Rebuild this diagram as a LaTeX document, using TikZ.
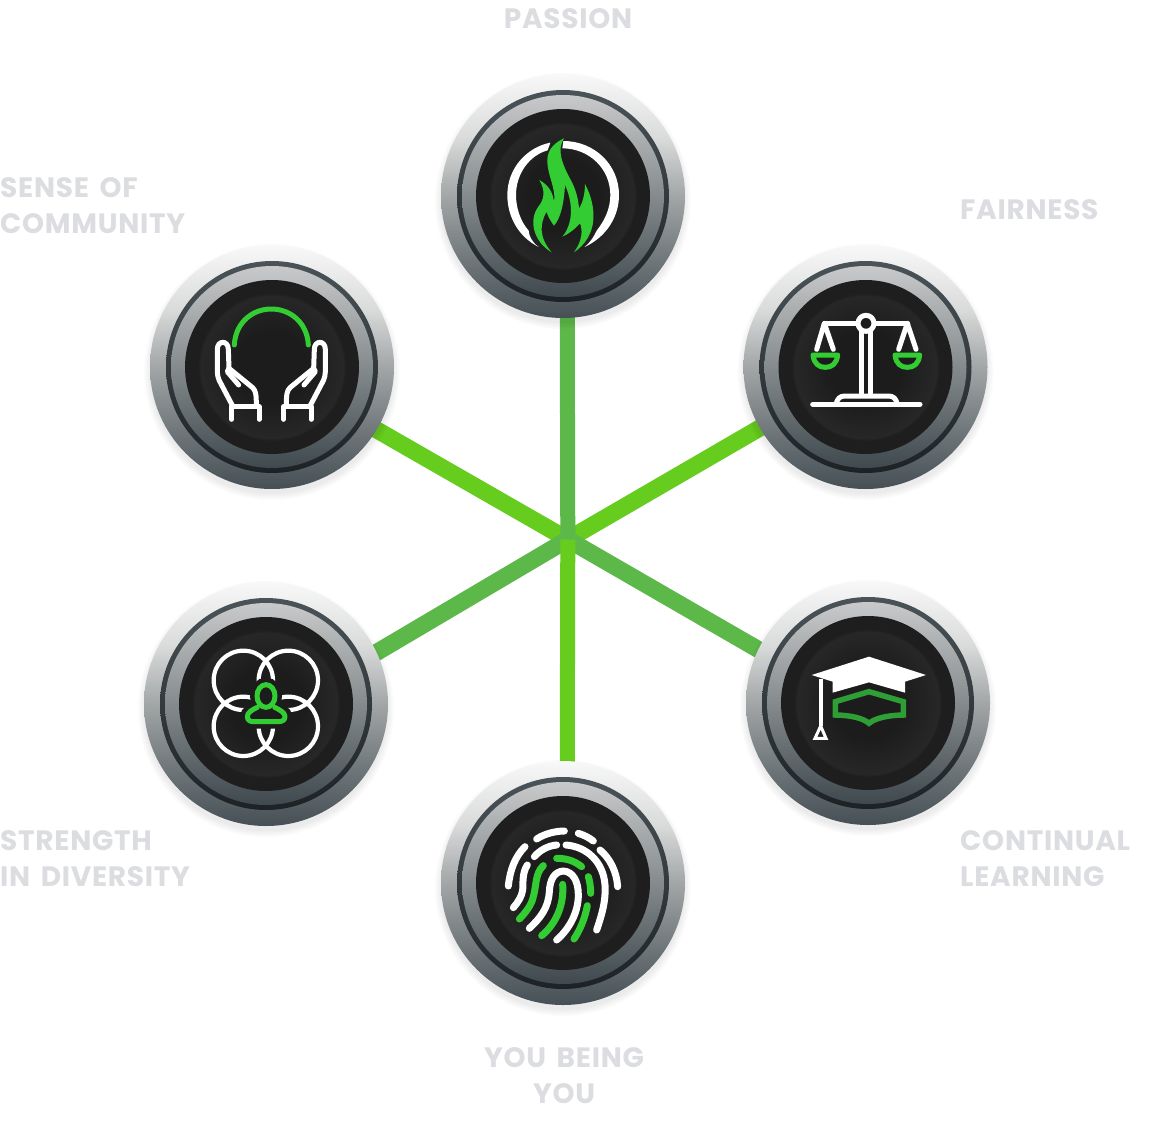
\documentclass[tikz,border=0pt]{standalone}
\usepackage{fontspec}
\setmainfont{Poppins}
\newfontfamily\lblfamily{Poppins}[LetterSpace=2.6,WordSpace=1.6]
\pgfdeclarelayer{bg}
\pgfsetlayers{bg,main}
\definecolor{lbl}{HTML}{DCDDE0}
\definecolor{icongreen}{HTML}{33CC33}
\definecolor{spokeA}{HTML}{5DB84A}
\definecolor{spokeB}{HTML}{66CC1E}
\definecolor{capgreen}{HTML}{2F9E34}
\definecolor{discdark}{HTML}{1C1C1C}
\definecolor{rimB}{HTML}{F8F8F8}
\definecolor{rimC}{HTML}{DADBDB}
\definecolor{rimD}{HTML}{A2A6A7}
\definecolor{rimE}{HTML}{6C7477}
\definecolor{rimF}{HTML}{454F55}
\definecolor{ringA}{HTML}{4A5358}
\definecolor{ringB}{HTML}{1C2225}
\definecolor{lrA}{HTML}{C8C9CA}
\definecolor{lrC}{HTML}{858B8D}
\definecolor{lrB}{HTML}{3F494E}
\definecolor{coreB}{HTML}{272727}
\definecolor{coreC}{HTML}{1E1E1E}
\pgfdeclareverticalshading{outerrim}{100bp}{color(0bp)=(rimF); color(25bp)=(rimF); color(36bp)=(rimE); color(50bp)=(rimD); color(62bp)=(rimC); color(75bp)=(rimB); color(100bp)=(rimB)}
\pgfdeclareverticalshading{midrim}{100bp}{color(0bp)=(ringB); color(25bp)=(ringB); color(75bp)=(ringA); color(100bp)=(ringA)}
\pgfdeclareverticalshading{lightrim}{100bp}{color(0bp)=(lrB); color(25bp)=(lrB); color(50bp)=(lrC); color(75bp)=(lrA); color(100bp)=(lrA)}
\pgfdeclareradialshading{corefill}{\pgfpoint{0bp}{0bp}}{color(0bp)=(discdark); color(12bp)=(discdark); color(24bp)=(coreB); color(25bp)=(coreC); color(50bp)=(coreC)}
\tikzset{
  rimbase/.style={circle,inner sep=0pt,outer sep=0pt,draw=none},
  rimouter/.style={rimbase,minimum size=244pt,shading=outerrim},
  rimmid/.style={rimbase,minimum size=212pt,shading=midrim},
  rimlight/.style={rimbase,minimum size=202pt,shading=lightrim},
  rimblack/.style={rimbase,minimum size=174pt,fill=coreC},
  rimcore/.style={rimbase,minimum size=148pt,shading=corefill},
  spoke/.style={line width=15pt,shorten >=-2pt},
  slantspoke/.style={line width=17pt,shorten >=-3pt},
  label/.style={font=\lblfamily\bfseries\fontsize{28}{36}\selectfont,text=lbl,inner sep=0pt,align=left},
  wline/.style={draw=white,line width=5pt,line cap=round,line join=round},
  gline/.style={draw=icongreen,line width=5pt,line cap=round,line join=round},
  fprint/.style={line width=7pt,line cap=round,line join=round},
  zoomed/.style={x=0.33333pt,y=-0.33333pt}
}
\newcommand{\softshadow}[2]{%
  \foreach \r in {122,123.5,125,126.5,128}{\fill[black,opacity=0.016] (#1,#2+5) circle[radius=\r];}%
}
\newcommand{\btn}[3]{%
  \softshadow{#2}{#3}%
  \node[rimouter] (#1) at (#2,#3) {};
  \node[rimmid] (#1-mid) at (#2,#3) {};
  \node[rimlight] (#1-light) at (#2,#3) {};
  \node[rimblack] (#1-black) at (#2,#3) {};
  \node[rimcore] (#1-core) at (#2,#3) {};
}
\begin{document}
\begin{tikzpicture}[x=1pt,y=-1pt]
\useasboundingbox (0,0) rectangle (1151,1126);
\coordinate (hub) at (567.8,539.5);
\btn{fire}{563}{196}
\btn{scale}{865.5}{367}
\btn{hands}{272}{367}
\btn{rings}{266}{704}
\btn{cap}{868}{703}
\btn{print}{563}{883}
\begin{pgfonlayer}{bg}
\fill[white] (0,0) rectangle (1151,1126);
\draw[slantspoke,spokeB] (hub) -- (scale.210);
\draw[slantspoke,spokeB] (hub) -- (hands.-31);
\draw[slantspoke,spokeA] (hub) -- (rings.25);
\draw[slantspoke,spokeA] (hub) -- (cap.154);
\draw[spoke,spokeA] (hub) -- (fire.-88);
\draw[spoke,spokeB] (hub) -- (print.88);
\end{pgfonlayer}
% flame
\begin{scope}[shift={(430pt,-60pt)},zoomed]
\fill[white] (361,248) .. controls (290,262) and (232,325) .. (232,405) .. controls (232,470) and (265,530) .. (326,561) .. controls (305,545) and (298,530) .. (296,512) .. controls (272,485) and (258,445) .. (258,405) .. controls (258,340) and (300,285) .. (353,271) -- cycle;
\fill[white] (400,243) .. controls (492,243) and (567,313) .. (567,405) .. controls (567,470) and (530,530) .. (464,561) .. controls (480,548) and (492,530) .. (500,512) .. controls (525,480) and (541,445) .. (541,405) .. controls (541,327) and (478,265) .. (397,265) -- cycle;
\fill[icongreen] (402,235) .. controls (380,270) and (395,310) .. (425,365) .. controls (440,395) and (445,420) .. (447,445)
  .. controls (458,430) and (465,400) .. (465,372) .. controls (485,410) and (492,445) .. (490,480) .. controls (487,520) and (465,555) .. (432,577)
  .. controls (458,540) and (458,510) .. (450,490) .. controls (432,510) and (415,522) .. (397,530)
  .. controls (430,490) and (430,430) .. (405,375) .. controls (402,430) and (392,475) .. (372,497)
  .. controls (358,478) and (352,465) .. (350,455) .. controls (330,490) and (325,530) .. (365,577)
  .. controls (310,545) and (295,480) .. (325,440) .. controls (345,415) and (345,390) .. (328,360)
  .. controls (355,375) and (368,395) .. (372,425) .. controls (380,390) and (350,340) .. (352,300)
  .. controls (352,265) and (380,245) .. (402,235) -- cycle;
\end{scope}
% scales
\begin{scope}[shift={(780pt,-290pt)},zoomed]
\draw[wline] (133,100) -- (383,100);
\draw[wline] (243,125) -- (243,315) (272,125) -- (272,315);
\draw[wline,fill=discdark] (258,100) circle[radius=24];
\draw[wline] (98,343) -- (420,343);
\draw[wline] (168,343) .. controls (172,325) and (180,318) .. (195,318) -- (325,318) .. controls (340,318) and (348,325) .. (352,343);
\draw[wline] (110,178) -- (133,100) -- (160,178);
\draw[wline] (356,178) -- (382,100) -- (408,178);
\draw[gline,fill=discdark] (99,195) -- (173,195) .. controls (170,222) and (155,232) .. (136,232) .. controls (117,232) and (102,222) .. (99,195) -- cycle;
\draw[gline,fill=discdark] (345,195) -- (419,195) .. controls (416,222) and (401,232) .. (382,232) .. controls (363,232) and (348,222) .. (345,195) -- cycle;
\end{scope}
% hands
\begin{scope}[shift={(190pt,-290pt)},zoomed]
\draw[gline] (133,165) .. controls (136,100) and (185,57) .. (244,57) .. controls (303,57) and (352,100) .. (355,165);
\foreach \flip/\off in {1/0,-1/488}{
\begin{scope}[shift={(\off,0)},xscale=\flip]
\draw[wline] (125,388) -- (125,350) -- (207,350) -- (207,388);
\draw[wline] (128,348) -- (88,272) .. controls (84,262) and (82,255) .. (82,245) -- (82,178) .. controls (82,150) and (115,150) .. (115,178) -- (117,235) -- (188,293) .. controls (197,303) and (199,310) .. (199,348);
\draw[wline] (117,235) -- (112,245) -- (146,285);
\end{scope}}
\end{scope}
% rings and person
\begin{scope}[shift={(190pt,-630pt)},zoomed]
\draw[wline,line width=4.2pt] (160,151) circle[radius=89] (295,151) circle[radius=89] (160,289) circle[radius=89] (295,289) circle[radius=89];
\def\persona{(228,198) ellipse[x radius=27,y radius=34]}
\def\personb{(202,232) .. controls (185,240) and (172,248) .. (172,260) .. controls (172,270) and (180,275) .. (190,275) -- (265,275) .. controls (277,275) and (285,270) .. (285,260) .. controls (285,248) and (270,240) .. (254,232)}
\draw[draw=discdark,fill=discdark,line width=14pt] \persona;
\draw[draw=discdark,fill=discdark,line width=14pt] \personb -- cycle;
\draw[gline] \personb;
\draw[gline,fill=discdark] \persona;
\end{scope}
% cap
\begin{scope}[shift={(790pt,-640pt)},zoomed]
\draw[draw=capgreen,line width=5.5pt,line join=miter] (136,185) -- (237,155) -- (340,185) -- (340,225) .. controls (290,226) and (255,235) .. (237,250) .. controls (220,235) and (185,226) .. (136,225) -- cycle;
\fill[white] (65,105) -- (237,50) -- (408,105) -- (345,125) -- (345,158) -- (237,127) -- (128,158) -- (128,125) -- cycle;
\draw[white,line width=3.8pt] (92,118) -- (92,258);
\draw[white,line width=3pt,line join=miter] (75,295) -- (92,258) -- (108,295) -- cycle;
\end{scope}
% fingerprint
\begin{scope}[shift={(490pt,-815pt)},zoomed]
\draw[fprint,white] (140,72) .. controls (165,55) and (200,48) .. (223,48);
\draw[fprint,white] (265,55) .. controls (282,60) and (297,68) .. (310,78);
\draw[fprint,white] (330,105) .. controls (360,130) and (380,170) .. (383,215);
\draw[fprint,white] (55,213) .. controls (60,165) and (75,125) .. (105,95);
\draw[fprint,white] (133,125) .. controls (150,105) and (175,92) .. (200,90);
\draw[fprint,white] (228,90) .. controls (290,95) and (340,140) .. (345,210) .. controls (348,260) and (335,300) .. (320,345);
\draw[fprint,white] (112,150) .. controls (95,175) and (100,210) .. (98,225) .. controls (95,245) and (85,260) .. (70,278);
\draw[fprint,white] (118,340) .. controls (150,310) and (175,280) .. (178,230) .. controls (180,190) and (195,170) .. (220,168) .. controls (250,170) and (265,200) .. (265,240) .. controls (265,290) and (240,340) .. (200,375);
\draw[fprint,icongreen] (160,152) .. controls (135,175) and (140,210) .. (130,245) .. controls (125,270) and (105,295) .. (88,312);
\draw[fprint,icongreen] (200,130) .. controls (225,130) and (250,135) .. (275,155);
\draw[fprint,icongreen] (295,185) .. controls (300,200) and (302,220) .. (302,235);
\draw[fprint,icongreen] (218,208) .. controls (222,260) and (205,320) .. (155,362);
\draw[fprint,icongreen] (292,272) .. controls (285,310) and (270,345) .. (252,372);
\end{scope}
% labels
\node[label,anchor=center] (l1) at (568,19) {PASSION};
\node[label,anchor=west] (l2) at (960,210) {FAIRNESS};
\node[label,anchor=west] (l3) at (0,206) {SENSE OF\\COMMUNITY};
\node[label,anchor=west] (l4) at (0,859) {STRENGTH\\IN DIVERSITY};
\node[label,anchor=west] (l5) at (960,859) {CONTINUAL\\LEARNING};
\node[label,anchor=center,align=center] (l6) at (564,1076) {YOU BEING\\YOU};
\end{tikzpicture}
\end{document}
